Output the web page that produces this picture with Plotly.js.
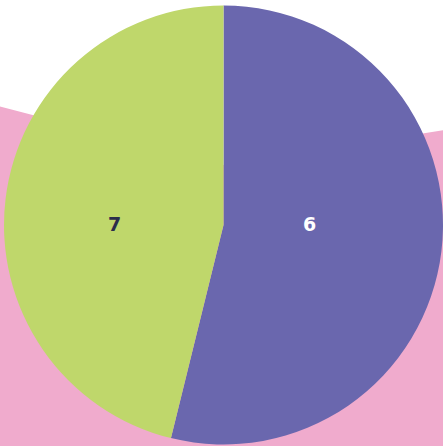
<!DOCTYPE html>
<html><head><meta charset="utf-8">
<script src="https://cdn.plot.ly/plotly-3.0.1.min.js"></script>
<style>html,body{margin:0;padding:0;background:#fff;}#chart{width:443px;height:446px;}</style>
</head><body><div id="chart"></div>
<script>
const sliceLabels = ['6', '7'];
const sliceValues = [7, 6];
const sliceColors = ['#6a67ae', '#bfd76b'];
const textColors = ['#ffffff', '#2b2d4b'];

const ML = 4, MT = 4, PW = 439, PH = 442;
function px(x, y) { return ((x - ML) / PW).toFixed(4) + ',' + (1 - (y - MT) / PH).toFixed(4); }
const bgPath = 'M ' + px(-2, 106) + ' L ' + px(224, 165) + ' L ' + px(445, 130) +
  ' L ' + px(445, 448) + ' L ' + px(-2, 448) + ' Z';

// label anchor positions (paper fraction of the plot area)
const labelPos = [[(309 - ML) / PW, 1 - (224 - MT) / PH], [(114 - ML) / PW, 1 - (224 - MT) / PH]];

Plotly.newPlot('chart', [{
  type: 'pie',
  labels: sliceLabels,
  values: sliceValues,
  sort: false,
  direction: 'clockwise',
  rotation: 0,
  textinfo: 'none',
  marker: { colors: sliceColors, line: { width: 0 } },
  showlegend: false,
  hoverinfo: 'none'
}], {
  width: 443, height: 446,
  margin: { l: ML, r: 0, t: MT, b: 0 },
  paper_bgcolor: '#ffffff',
  showlegend: false,
  shapes: [{
    type: 'path', xref: 'paper', yref: 'paper', layer: 'below',
    path: bgPath, fillcolor: '#f0abcd', line: { width: 0 }
  }],
  annotations: sliceLabels.map((t, i) => ({
    text: t, xref: 'paper', yref: 'paper', x: labelPos[i][0], y: labelPos[i][1],
    xanchor: 'center', yanchor: 'middle', showarrow: false,
    font: { family: 'DejaVu Sans', size: 19, color: textColors[i], weight: 'bold' }
  }))
}, { displayModeBar: false, staticPlot: true });
</script></body></html>
